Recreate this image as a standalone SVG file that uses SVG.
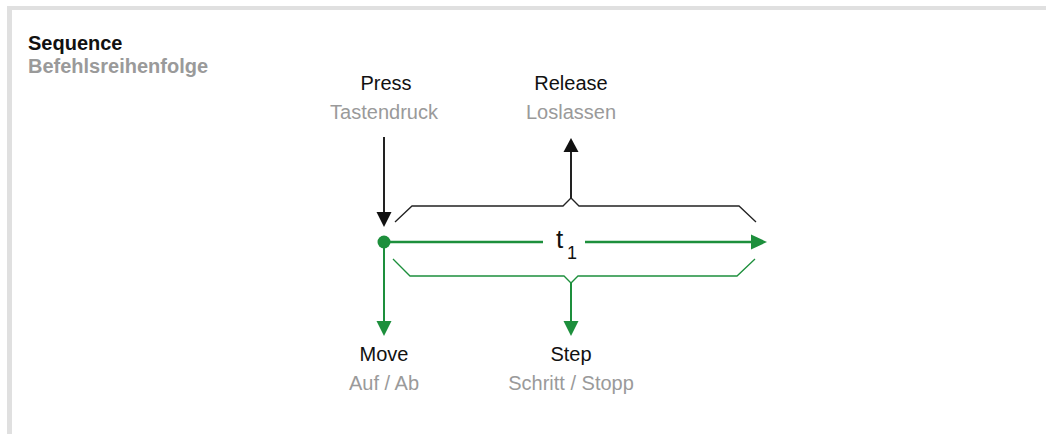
<svg xmlns="http://www.w3.org/2000/svg" width="1046" height="434" viewBox="0 0 1046 434">
<style>
.t{font-family:"Liberation Sans",Arial,sans-serif;font-size:20px;text-anchor:middle}
.k{fill:#111}
.g{fill:#9a9a9a}
.gl{stroke:#1d8f3c;fill:none}
.bl{stroke:#222;fill:none}
</style>
<rect x="7" y="6" width="1039" height="4" fill="#e0e0e0"/>
<rect x="7" y="6" width="5" height="428" fill="#e0e0e0"/>
<g id="title">
<text x="28" y="50" font-family="Liberation Sans,Arial,sans-serif" font-size="20" font-weight="bold" fill="#111">Sequence</text>
<text x="28" y="73" font-family="Liberation Sans,Arial,sans-serif" font-size="20" font-weight="bold" fill="#9a9a9a">Befehlsreihenfolge</text>
</g>
<g id="press"><text class="t k" x="386" y="90">Press</text><text class="t g" x="384" y="119">Tastendruck</text></g>
<g id="release"><text class="t k" x="571" y="90">Release</text><text class="t g" x="571" y="119">Loslassen</text></g>
<g id="move"><text class="t k" x="384" y="361">Move</text><text class="t g" x="384" y="390">Auf / Ab</text></g>
<g id="step"><text class="t k" x="571" y="361">Step</text><text class="t g" x="571" y="390">Schritt / Stopp</text></g>
<g id="t1"><text x="556" y="248" font-family="Liberation Sans,Arial,sans-serif" font-size="26" fill="#111">t</text><text x="567" y="259" font-family="Liberation Sans,Arial,sans-serif" font-size="18" fill="#111">1</text></g>
<g id="connectors">
<line class="bl" stroke-width="2" x1="384" y1="137" x2="384" y2="214"/>
<path d="M376.5,212 L391.5,212 L384,227 Z" fill="#111"/>
<line class="bl" stroke-width="2" x1="571" y1="199" x2="571" y2="150"/>
<path d="M563.5,152 L578.5,152 L571,138 Z" fill="#111"/>
<path class="bl" stroke-width="1.3" d="M395,222 L412,206 L563,206 L571,198 L579,206 L739,206 L756,222"/>
<line class="gl" stroke-width="2.5" x1="384" y1="242" x2="543" y2="242"/>
<line class="gl" stroke-width="2.5" x1="585" y1="242" x2="754" y2="242"/>
<path d="M751,234.5 L767,242 L751,249.5 Z" fill="#1d8f3c"/>
<circle cx="384" cy="242" r="6.5" fill="#1d8f3c"/>
<path class="gl" stroke-width="1.3" d="M393,259 L410,276 L564,276 L571,283 L578,276 L737,276 L755,259"/>
<line class="gl" stroke-width="2" x1="384" y1="242" x2="384" y2="324"/>
<path d="M376.5,321 L391.5,321 L384,336 Z" fill="#1d8f3c"/>
<line class="gl" stroke-width="2" x1="571" y1="283" x2="571" y2="324"/>
<path d="M563.5,321 L578.5,321 L571,336 Z" fill="#1d8f3c"/>
</g>
</svg>
